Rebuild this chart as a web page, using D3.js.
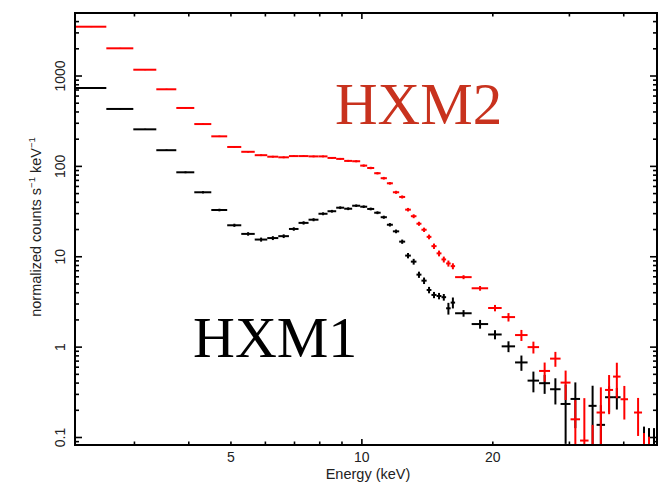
<!DOCTYPE html>
<html>
<head>
<meta charset="utf-8">
<script src="https://cdn.jsdelivr.net/npm/d3@7"></script>
<style>
  body { margin: 0; background: #fff; }
  svg { display: block; }
</style>
</head>
<body>
<svg id="chart" width="659" height="482"></svg>
<script>
// Energy bin edges (keV), shared by both detectors
const energyEdges = [2.19, 2.585, 2.982, 3.368, 3.744, 4.118, 4.506, 4.902, 5.281, 5.671,
  6.060, 6.424, 6.797, 7.151, 7.540, 7.947, 8.337, 8.729, 9.106, 9.499,
  9.911, 10.285, 10.674, 11.046, 11.415, 11.783, 12.183, 12.575, 12.960, 13.350,
  13.707, 14.09, 14.45, 14.85, 15.24, 15.62, 16.00, 16.38, 17.88, 19.51,
  20.96, 22.50, 24.04, 25.55, 27.08, 28.63, 30.18, 31.74, 33.20, 34.64,
  36.23, 37.80, 39.33, 40.92, 42.24, 44.07, 45.0, 46.45, 47.45, 48.5];

// HXM1 normalized counts per bin (null = empty bin) and 1-sigma errors
const hxm1Rate = [737, 432, 257, 151, 86, 51.7, 32.9, 22.3, 17.9, 15.5,
  16.1, 16.9, 20.3, 23.7, 25.7, 29.9, 31.9, 34.9, 34.0, 36.7,
  35.8, 33.8, 30.7, 27.4, 22.6, 19.1, 14.7, 10.3, 8.83, 6.34,
  5.44, 4.29, 3.78, 3.68, 3.57, 2.69, 3.11, 2.37, 1.80, 1.38,
  1.02, 0.677, 0.426, 0.399, 0.342, 0.235, 0.267, null, 0.224, 0.138,
  0.279, 0.279, null, null, null, 0.05, 0.05, 0.05, null];
const hxm1Err = [10, 6, 4, 3, 2, 1.5, 1.1, 0.9, 0.8, 0.8,
  0.8, 0.8, 0.9, 1.0, 1.0, 1.1, 1.1, 1.2, 1.2, 1.2,
  1.2, 1.2, 1.1, 1.1, 1.0, 0.9, 0.8, 0.7, 0.65, 0.5,
  0.45, 0.35, 0.3, 0.3, 0.3, 0.4, 0.43, 0.2, 0.2, 0.16,
  0.14, 0.13, 0.11, 0.095, 0.11, 0.15, 0.14, null, 0.15, 0.09,
  0.09, 0.075, null, null, null, 0.082, 0.077, 0.077, null];

// HXM2 normalized counts per bin and 1-sigma errors
const hxm2Rate = [3512, 2025, 1174, 713, 443, 294, 215, 164, 145, 133,
  128, 126, 130, 130, 129, 129, 124, 121, 115, 114,
  102, 96, 84, 74, 65, 51.7, 45.9, 33.2, 28.1, 23.2,
  19.9, 16.6, 13.1, 10.9, 9.34, 8.43, 7.87, 5.95, 4.48, 2.71,
  2.15, 1.36, 1.00, 0.545, 0.746, 0.405, 0.159, 0.0925, 0.04, 0.189,
  0.336, 0.472, 0.265, null, 0.189, 0.05, 0.05, null, 0.154];
const hxm2Err = [40, 25, 15, 10, 7, 5, 4, 3.5, 3, 3,
  3, 3, 3, 3, 3, 3, 3, 3, 3, 3,
  3, 3, 2.5, 2.5, 2.2, 2, 1.8, 1.5, 1.4, 1.2,
  1.1, 1.0, 0.9, 0.8, 0.7, 0.65, 0.6, 0.3, 0.27, 0.22,
  0.23, 0.19, 0.15, 0.13, 0.14, 0.145, 0.10, 0.18, 0.098, 0.17,
  0.155, 0.2, 0.107, null, 0.085, 0.062, 0.052, null, 0.066];

// Axis settings
const xDomain = [2.19, 47.7];
const yDomain = [0.0826, 4980];
const xTickLabels = [5, 10, 20];
const yTickLabels = [0.1, 1, 10, 100, 1000];

const svg = d3.select("#chart");
const plotL = 75, plotR = 657, plotT = 13, plotB = 445;

const x = d3.scaleLog().domain(xDomain).range([plotL, plotR]);
const y = d3.scaleLog().domain(yDomain).range([plotB, plotT]);

svg.append("defs").append("clipPath").attr("id", "plotClip")
  .append("rect").attr("x", plotL).attr("y", plotT)
  .attr("width", plotR - plotL).attr("height", plotB - plotT);

// Build point records from the bin arrays
function series(rate, err) {
  const pts = [];
  rate.forEach((v, i) => {
    if (v === null) return;
    pts.push({ lo: energyEdges[i], hi: energyEdges[i + 1], v: v, e: err[i] });
  });
  return pts;
}

function drawSeries(pts, color) {
  const g = svg.append("g").attr("clip-path", "url(#plotClip)")
    .attr("stroke", color).attr("stroke-width", 2).attr("fill", "none");
  const yc = v => (v <= yDomain[0] ? plotB + 20 : y(v));
  g.selectAll("line.h").data(pts).join("line").attr("class", "h")
    .attr("x1", d => x(d.lo)).attr("x2", d => x(d.hi))
    .attr("y1", d => yc(d.v)).attr("y2", d => yc(d.v));
  g.selectAll("line.v").data(pts).join("line").attr("class", "v")
    .attr("x1", d => x((d.lo + d.hi) / 2)).attr("x2", d => x((d.lo + d.hi) / 2))
    .attr("y1", d => yc(d.v + d.e))
    .attr("y2", d => yc(d.v - d.e));
}

drawSeries(series(hxm1Rate, hxm1Err), "#000");
drawSeries(series(hxm2Rate, hxm2Err), "#ff0000");

// Ticks: long at decades, short elsewhere, all pointing inward on every side
const isDecade = v => Math.abs(Math.log10(v) - Math.round(Math.log10(v))) < 1e-6;
const xTicks = x.ticks();
const yTicks = y.ticks();
const tickG = svg.append("g").attr("stroke", "#000").attr("stroke-width", 1.6);

xTicks.forEach(v => {
  const len = isDecade(v) ? 6 : 3.5;
  tickG.append("line").attr("x1", x(v)).attr("x2", x(v)).attr("y1", plotB).attr("y2", plotB - len);
  tickG.append("line").attr("x1", x(v)).attr("x2", x(v)).attr("y1", plotT).attr("y2", plotT + len);
});
yTicks.forEach(v => {
  const len = isDecade(v) ? 7 : 4;
  tickG.append("line").attr("y1", y(v)).attr("y2", y(v)).attr("x1", plotL).attr("x2", plotL + len);
  tickG.append("line").attr("y1", y(v)).attr("y2", y(v)).attr("x1", plotR).attr("x2", plotR - len);
});

// Frame
svg.append("rect").attr("x", plotL).attr("y", plotT)
  .attr("width", plotR - plotL).attr("height", plotB - plotT)
  .attr("fill", "none").attr("stroke", "#000").attr("stroke-width", 2);

const font = "'Liberation Sans', Arial, Helvetica, sans-serif";

// X tick labels
svg.append("g").selectAll("text").data(xTickLabels).join("text")
  .attr("x", d => x(d)).attr("y", 462)
  .attr("text-anchor", "middle").attr("font-family", font).attr("font-size", 14)
  .attr("fill", "#222").text(d => d);

// Y tick labels, rotated
svg.append("g").selectAll("text").data(yTickLabels).join("text")
  .attr("transform", d => `translate(65,${y(d)}) rotate(-90)`)
  .attr("text-anchor", "middle").attr("font-family", font).attr("font-size", 14)
  .attr("fill", "#222").text(d => d3.format("~g")(d));

// Axis titles
svg.append("text").attr("x", (plotL + plotR) / 2 + 2).attr("y", 479)
  .attr("text-anchor", "middle").attr("font-family", font).attr("font-size", 14.5)
  .attr("fill", "#222").text("Energy (keV)");

const yt = svg.append("text")
  .attr("transform", "translate(40.5,227) rotate(-90)")
  .attr("text-anchor", "middle").attr("font-family", font).attr("font-size", 14.5)
  .attr("fill", "#222");
yt.append("tspan").text("normalized counts s");
yt.append("tspan").attr("font-size", 9.5).attr("dy", -5.5).text("−1");
yt.append("tspan").attr("dy", 5.5).text(" keV");
yt.append("tspan").attr("font-size", 9.5).attr("dy", -5.5).text("−1");

// Detector labels
const serif = "'Liberation Serif', 'Times New Roman', Times, serif";
svg.append("text").attr("x", 335).attr("y", 124)
  .attr("font-family", serif).attr("font-size", 59).attr("fill", "#c8321e").text("HXM2");
svg.append("text").attr("x", 193).attr("y", 357)
  .attr("font-family", serif).attr("font-size", 58).attr("fill", "#000").text("HXM1");
</script>
</body>
</html>
